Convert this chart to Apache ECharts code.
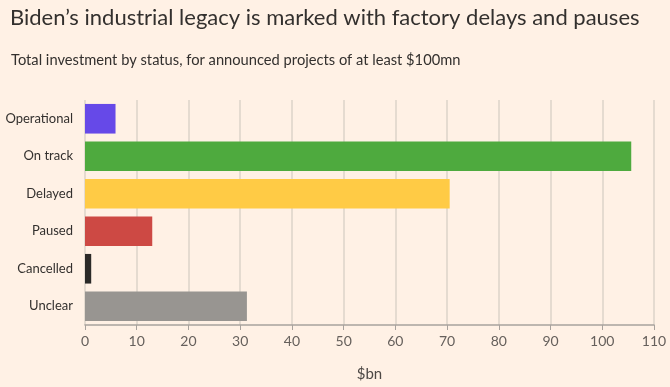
<!DOCTYPE html>
<html><head><meta charset="utf-8">
<script src="https://cdn.jsdelivr.net/npm/echarts@6/dist/echarts.min.js"></script>
<style>html,body{margin:0;padding:0;background:#FFF1E5;}#c{width:670px;height:387px;}</style>
</head><body><div id="c"></div>
<script>
const categories = ["Operational", "On track", "Delayed", "Paused", "Cancelled", "Unclear"];
const values = [5.9, 105.6, 70.5, 13.0, 1.2, 31.3];
const barColors = ["#6649e8", "#4eaa3e", "#ffcb45", "#cd4944", "#2b2a28", "#989591"];
const xTicks = [0, 10, 20, 30, 40, 50, 60, 70, 80, 90, 100, 110];
const titleText = "Biden\u2019s industrial legacy is marked with factory delays and pauses";
const subtitleText = "Total investment by status, for announced projects of at least $100mn";
const xAxisName = "$bn";

const font = "Lato, 'Open Sans', sans-serif";
const chart = echarts.init(document.getElementById('c'), null, {renderer: 'canvas'});
chart.setOption({
  backgroundColor: '#FFF1E5',
  animation: false,
  title: [
    {text: titleText, left: 5, top: 2, textStyle: {fontFamily: font, fontSize: 22, fontWeight: 'normal', color: '#33302e'}},
    {text: subtitleText, left: 6, top: 48, textStyle: {fontFamily: font, fontSize: 14.7, fontWeight: 'normal', color: '#33302e'}}
  ],
  grid: {left: 85, right: 16, top: 100, height: 226, containLabel: false},
  xAxis: {
    type: 'value', min: xTicks[0], max: xTicks[xTicks.length - 1], interval: 10,
    name: xAxisName, nameLocation: 'middle', nameGap: 42,
    nameTextStyle: {fontFamily: font, fontSize: 15, color: '#4d4845'},
    axisLine: {show: true, lineStyle: {color: '#a8a29d', width: 1.5}},
    axisTick: {show: true, length: 5, lineStyle: {color: '#a8a29d'}},
    axisLabel: {fontFamily: font, fontSize: 14, color: '#66605c', margin: 9},
    splitLine: {show: true, lineStyle: {color: '#ddd3c9', width: 1.5}}
  },
  yAxis: {
    type: 'category', data: categories, inverse: true,
    axisLine: {show: false}, axisTick: {show: false},
    axisLabel: {fontFamily: font, fontSize: 13, color: '#33302e', margin: 12}
  },
  series: [{
    type: 'bar', barCategoryGap: '21%',
    data: values.map((v, i) => ({value: v, itemStyle: {color: barColors[i]}}))
  }]
});
</script></body></html>
